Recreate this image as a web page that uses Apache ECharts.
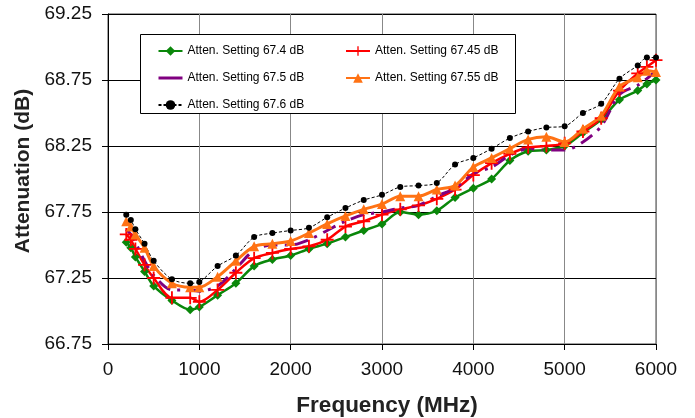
<!DOCTYPE html>
<html>
<head>
<meta charset="utf-8">
<script src="https://cdn.jsdelivr.net/npm/echarts@6/dist/echarts.min.js"></script>
<style>
  html, body { margin: 0; padding: 0; background: #fff; }
  #chart { width: 695px; height: 418px; }
</style>
</head>
<body>
<div id="chart"></div>
<script>
// frequency points (MHz)
const freq = [200, 250, 300, 400, 500, 700, 900, 1000, 1200, 1400, 1600, 1800, 2000, 2200, 2400, 2600, 2800, 3000,
    3200, 3400, 3600, 3800, 4000, 4200, 4400, 4600, 4800, 5000, 5200, 5400, 5600, 5800, 5900, 6000];

// attenuation (dB) per setting
const att674 = [67.52, 67.48, 67.41, 67.30, 67.19, 67.08, 67.01, 67.03, 67.12, 67.21, 67.34, 67.39, 67.42, 67.47, 67.51, 67.56, 67.61, 67.66,
    67.75, 67.73, 67.76, 67.86, 67.93, 68.00, 68.14, 68.21, 68.22, 68.25, 68.35, 68.45, 68.60, 68.67, 68.72, 68.75];
const att6745 = [67.58, 67.54, 67.47, 67.35, 67.25, 67.10, 67.10, 67.07, 67.16, 67.29, 67.40, 67.44, 67.47, 67.49, 67.54, 67.64, 67.68, 67.73,
    67.77, 67.80, 67.85, 67.92, 68.03, 68.12, 68.19, 68.24, 68.25, 68.27, 68.36, 68.46, 68.67, 68.80, 68.85, 68.90];
const att675 = [67.62, 67.58, 67.52, 67.38, 67.27, 67.16, 67.16, 67.15, 67.19, 67.32, 67.46, 67.50, 67.50, 67.54, 67.61, 67.68, 67.73, 67.75,
    67.78, 67.80, 67.87, 67.93, 68.04, 68.09, 68.18, 68.23, 68.22, 68.22, 68.28, 68.40, 68.64, 68.71, 68.76, 68.82];
const att6755 = [67.68, 67.64, 67.58, 67.48, 67.34, 67.21, 67.18, 67.18, 67.26, 67.38, 67.49, 67.51, 67.53, 67.59, 67.66, 67.72, 67.77, 67.81,
    67.87, 67.87, 67.92, 67.95, 68.09, 68.16, 68.23, 68.30, 68.32, 68.28, 68.38, 68.48, 68.70, 68.77, 68.82, 68.81];
const att676 = [67.73, 67.69, 67.62, 67.51, 67.38, 67.24, 67.21, 67.22, 67.34, 67.42, 67.56, 67.59, 67.61, 67.63, 67.71, 67.78, 67.84, 67.88,
    67.94, 67.95, 67.97, 68.11, 68.16, 68.23, 68.31, 68.36, 68.39, 68.40, 68.50, 68.57, 68.76, 68.86, 68.92, 68.92];

const names = ['Atten. Setting 67.4 dB', 'Atten. Setting 67.45 dB', 'Atten. Setting 67.5 dB',
    'Atten. Setting 67.55 dB', 'Atten. Setting 67.6 dB'];

const font = 'Arial, "Liberation Sans", sans-serif';
const plusPath = 'path://M4.3,0h1.4v4.3h4.3v1.4h-4.3v4.3h-1.4v-4.3h-4.3v-1.4h4.3z';

function pairs(ys) {
    return freq.map((f, i) => [f, ys[i]]);
}

const chart = echarts.init(document.getElementById('chart'));

let option = {
    animation: false,
    backgroundColor: '#fff',
    textStyle: { fontFamily: font },
    grid: {
        left: 108, right: 39, top: 14, bottom: 74,
        outerBoundsMode: 'none',
        containLabel: false,
        show: true, borderColor: '#444', borderWidth: 1
    },
    xAxis: {
        type: 'value',
        min: 0, max: 6000, interval: 1000,
        name: 'Frequency (MHz)',
        nameLocation: 'middle',
        nameGap: 50,
        nameTextStyle: { fontSize: 22.5, fontWeight: 'bold', color: '#222', fontFamily: font, padding: [0, 0, 0, 10] },
        axisLine: { lineStyle: { color: '#000', width: 1 } },
        axisTick: { show: true, length: 6, lineStyle: { color: '#000' } },
        axisLabel: { fontSize: 19, color: '#111', margin: 16, fontFamily: font, formatter: v => String(v) },
        splitLine: { show: true, lineStyle: { color: '#888', width: 1 } }
    },
    yAxis: {
        type: 'value',
        min: 66.75, max: 69.25, interval: 0.5,
        name: 'Attenuation (dB)',
        nameLocation: 'middle',
        nameGap: 73,
        nameTextStyle: { fontSize: 21, fontWeight: 'bold', color: '#222', fontFamily: font, padding: [0, 0, 0, 16] },
        axisLine: { show: true, lineStyle: { color: '#000', width: 1 } },
        axisTick: { show: true, length: 6, lineStyle: { color: '#000' } },
        axisLabel: {
            fontSize: 19, color: '#111', margin: 16, fontFamily: font,
            formatter: v => v.toFixed(2)
        },
        splitLine: { show: true, lineStyle: { color: '#000', width: 1 } }
    },
    legend: [
        {
            left: 152, top: 40, orient: 'vertical',
            itemWidth: 24, itemHeight: 12, itemGap: 15,
            textStyle: { fontSize: 12, color: '#000', fontFamily: font },
            data: [
                names[0],
                { name: names[2], itemStyle: { opacity: 0 }, lineStyle: { type: 'solid', width: 3 } },
                names[4]
            ],
            z: 5
        },
        {
            left: 340, top: 40, orient: 'vertical',
            itemWidth: 24, itemHeight: 12, itemGap: 15,
            textStyle: { fontSize: 12, color: '#000', fontFamily: font },
            data: [names[1], names[3]],
            z: 5
        }
    ],
    graphic: [{
        type: 'rect',
        shape: { x: 140.5, y: 34.5, width: 375, height: 79 },
        style: { fill: '#fff', stroke: '#000', lineWidth: 1 },
        z: 4
    }],
    series: [
        {
            name: names[0], type: 'line', smooth: 0.3,
            data: pairs(att674),
            symbol: 'diamond', symbolSize: 9,
            itemStyle: { color: '#0a870a' },
            lineStyle: { color: '#0a870a', width: 2.5 }
        },
        {
            name: names[1], type: 'line', smooth: 0.3,
            data: pairs(att6745),
            symbol: plusPath, symbolSize: 13,
            itemStyle: { color: '#ff0000' },
            lineStyle: { color: '#ff0000', width: 2.5 }
        },
        {
            name: names[2], type: 'line', smooth: 0.3,
            data: pairs(att675),
            symbol: 'none',
            itemStyle: { color: '#800080' },
            lineStyle: { color: '#800080', width: 3, type: [14, 7, 3, 7] }
        },
        {
            name: names[3], type: 'line', smooth: 0.3,
            data: pairs(att6755),
            symbol: 'triangle', symbolSize: 10,
            itemStyle: { color: '#ff7214' },
            lineStyle: { color: '#ff7214', width: 3 }
        },
        {
            name: names[4], type: 'line', smooth: 0.3,
            data: pairs(att676),
            symbol: 'circle', symbolSize: 6,
            itemStyle: { color: '#000' },
            lineStyle: { color: '#000', width: 1, type: [3, 2] }
        }
    ]
};

chart.setOption(option);
</script>
</body>
</html>
